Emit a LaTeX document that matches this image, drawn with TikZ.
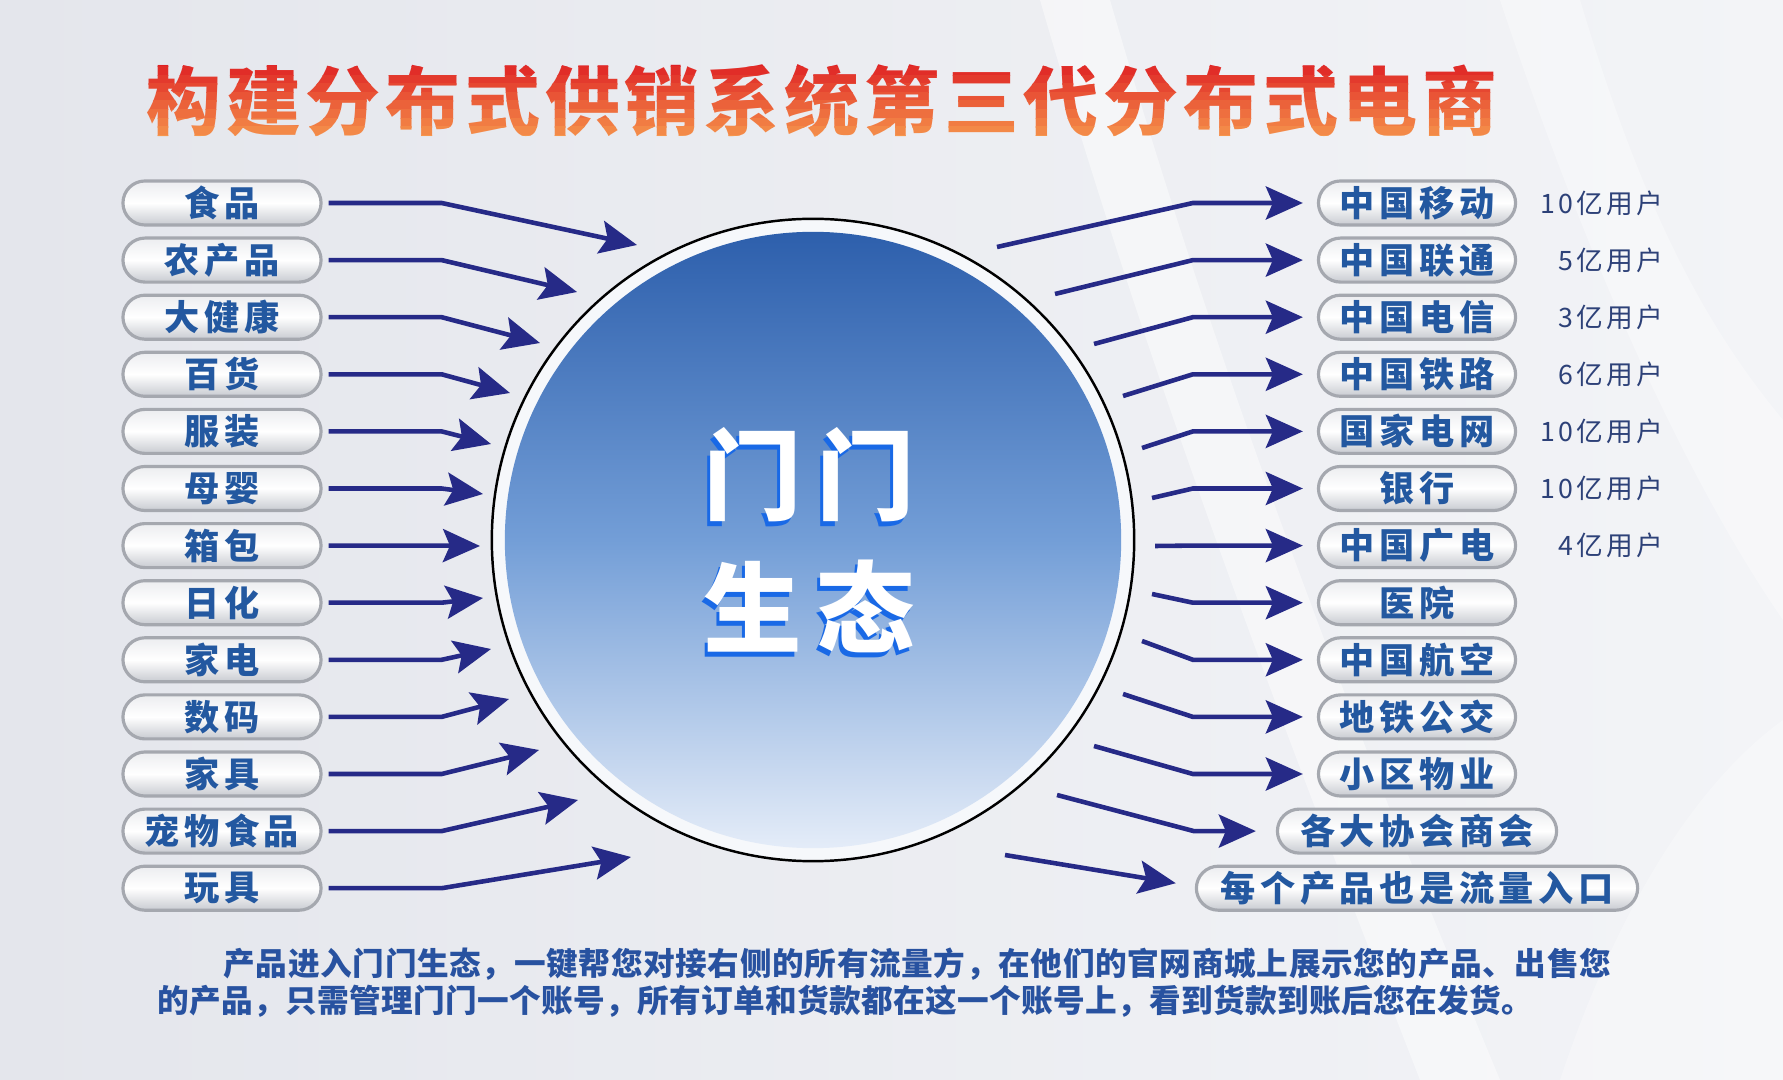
\documentclass[tikz,border=0pt]{standalone}
\usepackage{fontspec}
\usetikzlibrary{arrows.meta,calc}
\newfontfamily\cjk{Noto Sans CJK SC}
\newfontfamily\cjkpill[LetterSpace=13]{Noto Sans CJK SC}
\newfontfamily\cjktitle[LetterSpace=6.5]{Noto Sans CJK SC}
\newfontfamily\cjkcenter[LetterSpace=15]{Noto Sans CJK SC}
\newfontfamily\cjklabel[LetterSpace=12]{Noto Sans CJK SC}
\newfontfamily\cjkbottomA[LetterSpace=2]{Noto Sans CJK SC}
\newfontfamily\cjkbottomB[LetterSpace=1.1]{Noto Sans CJK SC}
\definecolor{arrowblue}{RGB}{38,42,135}
\definecolor{pilltext}{RGB}{35,88,160}
\definecolor{labeltext}{RGB}{45,65,120}
\definecolor{bottomtext}{RGB}{40,82,160}
\definecolor{disktop}{RGB}{45,95,172}
\definecolor{diskmid}{RGB}{115,158,215}
\definecolor{diskbot}{RGB}{228,236,248}
\definecolor{titletop}{RGB}{222,32,36}
\definecolor{titlebot}{RGB}{246,150,76}
\definecolor{shadowblue}{RGB}{25,105,230}
\definecolor{bgA}{RGB}{228,230,236}
\definecolor{bgB}{RGB}{243,244,247}
\definecolor{pilledge}{RGB}{165,168,175}
\definecolor{pilltop}{RGB}{236,237,240}
\definecolor{pillbot}{RGB}{200,203,209}
\begin{document}
\begin{tikzpicture}[x=0.01cm,y=-0.01cm,
  pill/.style={draw=pilledge, line width=0.9pt, rounded corners=0.22cm, minimum height=0.44cm, inner sep=0pt,
    top color=pilltop, bottom color=pillbot, middle color=white, text=pilltext,
    font=\cjkpill\bfseries\fontsize{10pt}{10pt}\selectfont},
  lpill/.style={pill, minimum width=1.98cm},
  rpill/.style={pill, minimum width=1.97cm},
  arr/.style={draw=arrowblue, line width=1.3pt, line join=miter,
    -{Stealth[length=0.37cm,width=0.33cm,inset=0.07cm]}},
  lbl/.style={text=labeltext, font=\cjklabel\fontsize{7.6pt}{7.6pt}\selectfont, anchor=east, inner sep=0pt},
  bottomline/.style={anchor=west, inner sep=0pt, text=bottomtext},
  titlefont/.style={inner sep=0pt, font=\cjktitle\bfseries\fontsize{21.3pt}{21.3pt}\selectfont},
  centerfont/.style={font=\cjkcenter\bfseries\fontsize{28pt}{28pt}\selectfont}
]
\useasboundingbox (0,0) rectangle (1783,1080);
\fill[left color=bgA, right color=bgB] (0,0) rectangle (1783,1080);
\fill[white, opacity=0.45] (1040,0) .. controls (1150,380) and (1280,720) .. (1420,1080) -- (1500,1080) .. controls (1350,720) and (1220,380) .. (1110,0) -- cycle;
\fill[white, opacity=0.35] (1500,0) .. controls (1600,300) and (1700,500) .. (1783,620) -- (1783,420) .. controls (1700,320) and (1640,200) .. (1580,0) -- cycle;
\fill[white, opacity=0.3] (1560,1080) .. controls (1620,900) and (1700,780) .. (1783,720) -- (1783,1080) -- cycle;

% title, coloured top (red) to bottom (orange) in horizontal bands
\foreach \k in {0,...,9} {
  \pgfmathtruncatemacro{\p}{round(\k*100/9)}
  \begin{scope}
    \clip (100,{58+\k*8.6}) rectangle (1560,{58+(\k+1)*8.6+0.4});
    \node[titlefont, text=titlebot!\p!titletop] (title\k) at (822,101) {构建分布式供销系统第三代分布式电商};
  \end{scope}
}

% circle
\node[circle, draw=black, line width=0.7pt, fill={rgb,255:red,246;green,248;blue,251}, minimum size=6.42cm, inner sep=0pt] (ring) at (813,540) {};
\node[circle, minimum size=6.16cm, inner sep=0pt, top color=disktop, bottom color=diskbot, middle color=diskmid] (disk) at (813,540) {};
\node[centerfont, text=shadowblue] (c1s) at (806,480) {门门};
\node[centerfont, text=white] (c1) at (809,475) {门门};
\node[centerfont, text=shadowblue] (c2s) at (806,611) {生态};
\node[centerfont, text=white] (c2) at (809,606) {生态};

% left pills
\foreach \t [count=\i from 0] in {食品,农产品,大健康,百货,服装,母婴,箱包,日化,家电,数码,家具,宠物食品,玩具}
  \node[lpill] (l\i) at (222,{203+57.1*\i}) {\t};
\foreach \i/\x/\y in {0/637/245,1/577/292,2/540/343,3/510/393,4/491/444,5/483/494,6/480/546,7/483/598,8/491/649,9/509/699,10/539/750,11/578/800,12/631/857}
  \coordinate (lt\i) at (\x,\y);
\foreach \i in {0,...,12}
  \draw[arr] ([xshift=0.06cm]l\i.east) -- ++(113,0) -- (lt\i);

% right pills
\foreach \t [count=\i from 0] in {中国移动,中国联通,中国电信,中国铁路,国家电网,银行,中国广电,医院,中国航空,地铁公交,小区物业}
  \node[rpill] (r\i) at (1417,{203+57.1*\i}) {\t};
\node[pill, minimum width=2.79cm] (r11) at (1417,{203+57.1*11}) {各大协会商会};
\node[pill, minimum width=4.41cm] (r12) at (1417,{203+57.1*12}) {每个产品也是流量入口};
\foreach \i/\x/\y in {0/997/247,1/1055/294,2/1094/344,3/1123/396,4/1142/448,5/1152/498,6/1155/546,7/1152/594,8/1142/641,9/1123/694,10/1094/746,11/1057/795,12/1005/855}
  \coordinate (rs\i) at (\x,\y);
\foreach \i in {0,...,10}
  \draw[arr] (rs\i) -- ($(r\i.west)+(-124,0)$) -- ($(r\i.west)+(-14,0)$);
\draw[arr] (rs11) -- ($(r11.west)+(-82,0)$) -- ($(r11.west)+(-20,0)$);
\draw[arr] (rs12) -- ($(r12.west)+(-19,-5)$);

% user counts
\foreach \t [count=\i from 0] in {10亿用户,5亿用户,3亿用户,6亿用户,10亿用户,10亿用户,4亿用户}
  \node[lbl] (u\i) at (1664,{203+57.1*\i}) {\t};

% bottom text
\node[bottomline, font=\cjkbottomA\bfseries\fontsize{9pt}{9pt}\selectfont] (t1) at (223,964) {产品进入门门生态，一键帮您对接右侧的所有流量方，在他们的官网商城上展示您的产品、出售您};
\node[bottomline, font=\cjkbottomB\bfseries\fontsize{9pt}{9pt}\selectfont] (t2) at (157,1001) {的产品，只需管理门门一个账号，所有订单和货款都在这一个账号上，看到货款到账后您在发货。};
\end{tikzpicture}
\end{document}
